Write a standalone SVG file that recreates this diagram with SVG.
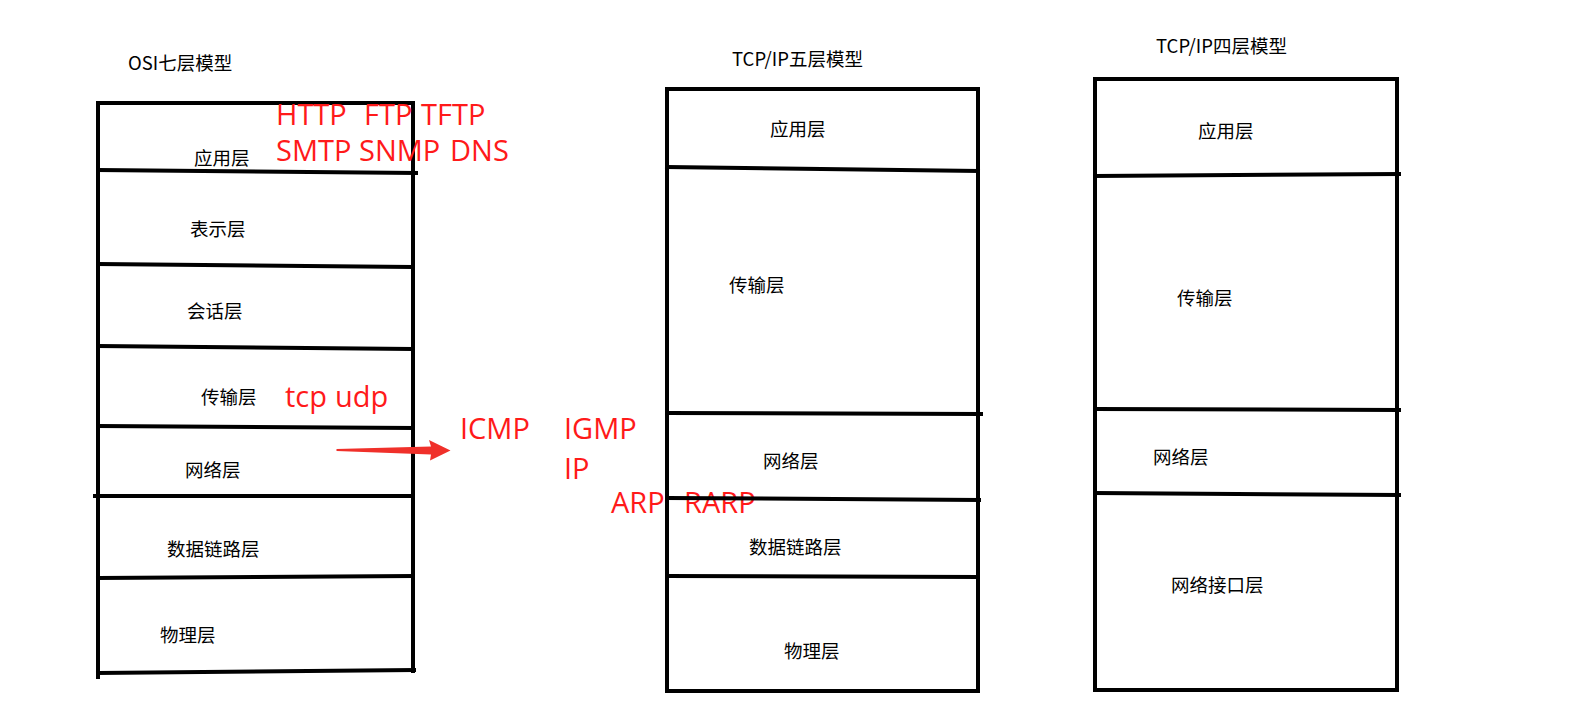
<svg xmlns="http://www.w3.org/2000/svg" width="1581" height="723" viewBox="0 0 1581 723">
<style>
.ln{stroke:#000;stroke-width:4;fill:none;stroke-linecap:square}
.lb{font-family:"Noto Sans CJK SC","Liberation Sans",sans-serif;font-size:18.5px;fill:#000}
.rd{font-family:"Open Sans","Liberation Sans",sans-serif;font-size:29px;fill:#ff1a1a}
</style>
<rect width="1581" height="723" fill="#fff"/>
<g id="osi">
<text class="lb" x="128" y="70">OSI七层模型</text>
<line class="ln" x1="98" y1="103" x2="413" y2="103"/>
<line class="ln" x1="98" y1="103" x2="98" y2="677"/>
<line class="ln" x1="413" y1="103" x2="413" y2="671"/>
<line class="ln" x1="98" y1="170" x2="416" y2="173"/>
<line class="ln" x1="98" y1="264" x2="411" y2="267"/>
<line class="ln" x1="98" y1="346" x2="411" y2="349"/>
<line class="ln" x1="98" y1="426" x2="413" y2="428"/>
<line class="ln" x1="95" y1="496" x2="413" y2="496"/>
<line class="ln" x1="98" y1="578" x2="413" y2="576"/>
<line class="ln" x1="98" y1="673" x2="414" y2="670"/>
<text class="lb" x="194" y="165">应用层</text>
<text class="lb" x="190" y="236">表示层</text>
<text class="lb" x="187" y="318">会话层</text>
<text class="lb" x="201" y="404">传输层</text>
<text class="lb" x="185" y="477">网络层</text>
<text class="lb" x="167" y="556">数据链路层</text>
<text class="lb" x="160" y="642">物理层</text>
</g>
<g id="protocols">
<text class="rd"><tspan x="276" y="125">HTTP</tspan><tspan x="364" y="125">FTP</tspan><tspan x="421" y="125">TFTP</tspan><tspan x="276" y="161">SMTP</tspan><tspan x="359" y="161">SNMP</tspan><tspan x="450" y="161">DNS</tspan></text>
<text class="rd" y="407"><tspan x="285">tcp</tspan><tspan x="335">udp</tspan></text>
<text class="rd" y="439"><tspan x="460">ICMP</tspan><tspan x="564">IGMP</tspan></text>
<text class="rd" x="564" y="479">IP</text>
<text class="rd" y="513"><tspan x="611">ARP</tspan><tspan x="684">RARP</tspan></text>
</g>
<g id="tcpip5">
<text class="lb" x="732" y="66">TCP/IP五层模型</text>
<line class="ln" x1="667" y1="89" x2="978" y2="89"/>
<line class="ln" x1="667" y1="89" x2="667" y2="691"/>
<line class="ln" x1="978" y1="89" x2="978" y2="691"/>
<line class="ln" x1="667" y1="691" x2="978" y2="691"/>
<line class="ln" x1="667" y1="167" x2="978" y2="171"/>
<line class="ln" x1="667" y1="413" x2="981" y2="414"/>
<line class="ln" x1="667" y1="498" x2="979" y2="500"/>
<line class="ln" x1="667" y1="576" x2="978" y2="577"/>
<text class="lb" x="770" y="136">应用层</text>
<text class="lb" x="729" y="292">传输层</text>
<text class="lb" x="763" y="468">网络层</text>
<text class="lb" x="749" y="554">数据链路层</text>
<text class="lb" x="784" y="658">物理层</text>
</g>
<g id="tcpip4">
<text class="lb" x="1156" y="53">TCP/IP四层模型</text>
<line class="ln" x1="1095" y1="79" x2="1397" y2="79"/>
<line class="ln" x1="1095" y1="79" x2="1095" y2="690"/>
<line class="ln" x1="1397" y1="79" x2="1397" y2="690"/>
<line class="ln" x1="1095" y1="690" x2="1397" y2="690"/>
<line class="ln" x1="1095" y1="176" x2="1399" y2="174"/>
<line class="ln" x1="1095" y1="409" x2="1399" y2="410"/>
<line class="ln" x1="1095" y1="493" x2="1399" y2="495"/>
<text class="lb" x="1198" y="138">应用层</text>
<text class="lb" x="1177" y="305">传输层</text>
<text class="lb" x="1153" y="464">网络层</text>
<text class="lb" x="1171" y="592">网络接口层</text>
</g>
<g id="connectors">
<polygon points="336.5,449 431,446.5 429,440 450.5,450.5 430,460.5 431,454.5 336.5,451" fill="#f0302a"/>
</g>
</svg>
